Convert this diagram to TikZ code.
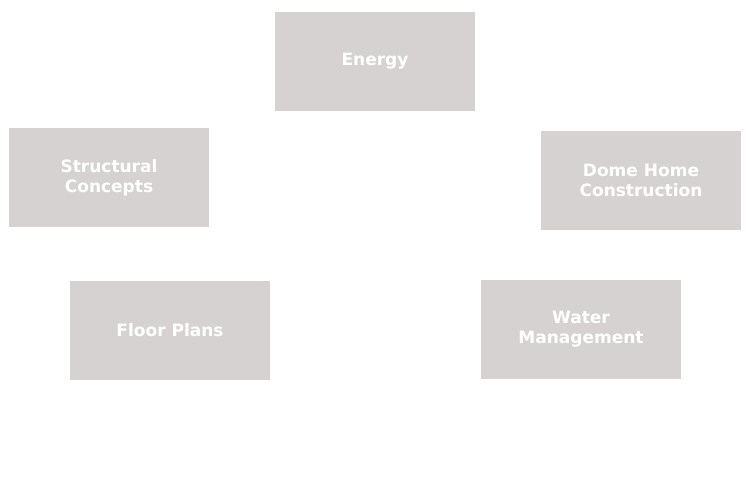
\documentclass[tikz,border=0pt]{standalone}
\usepackage{fontspec}
\setmainfont{DejaVu Sans}
\definecolor{boxgray}{HTML}{D7D2D2}
\begin{document}
\begin{tikzpicture}[x=1pt,y=-1pt]
  \tikzset{topic/.style={fill=boxgray, rectangle, minimum width=200pt, minimum height=99pt, inner sep=0pt, align=center, text=white, font={\fontsize{17}{20}\selectfont\bfseries}}}
  \useasboundingbox (0,0) rectangle (750,489);

  \node[topic] (energy)     at (375,61.5)  {Energy};
  \node[topic] (structural) at (109,177.5) {Structural\\Concepts};
  \node[topic] (dome)       at (641,180.5) {Dome Home\\Construction};
  \node[topic] (floor)      at (170,330.5) {Floor Plans};
  \node[topic] (water)      at (581,329.5) {Water\\Management};
\end{tikzpicture}
\end{document}
